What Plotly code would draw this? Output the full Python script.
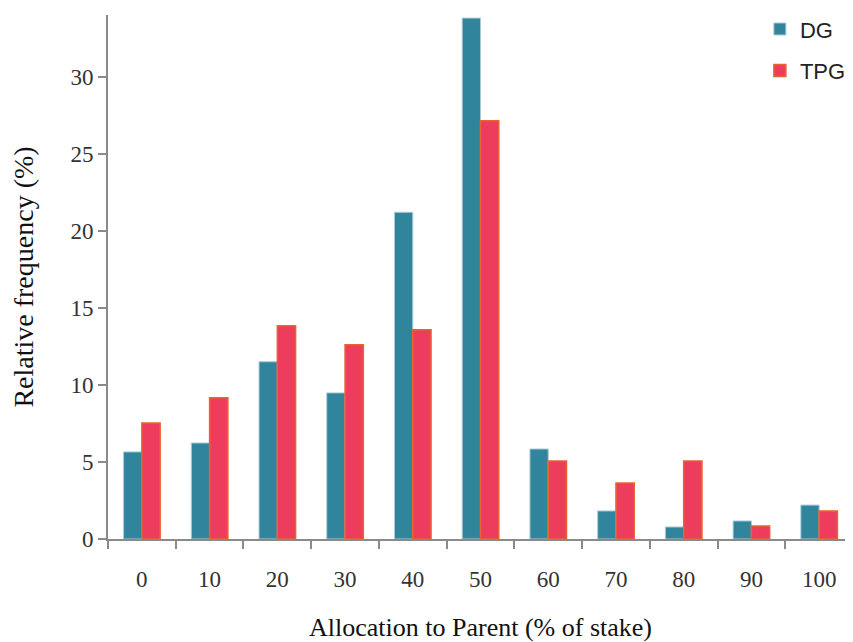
import plotly.graph_objects as go

categories = ["0", "10", "20", "30", "40", "50", "60", "70", "80", "90", "100"]
dg_values = [5.65, 6.23, 11.5, 9.48, 21.2, 33.8, 5.84, 1.82, 0.78, 1.17, 2.2]
tpg_values = [7.53, 9.16, 13.83, 12.6, 13.57, 27.14, 5.06, 3.64, 5.06, 0.84, 1.82]

fig = go.Figure()
fig.add_trace(go.Bar(
    x=categories, y=dg_values, name="DG", legendgroup="a",
    marker=dict(color="#30849c", line=dict(color="#a9cbd6", width=1)),
))
fig.add_trace(go.Bar(
    x=categories, y=tpg_values, name="TPG", legendgroup="b",
    marker=dict(color="#ee3d5c", line=dict(color="#e8642e", width=1.5)),
))

serif = "Liberation Serif"
fig.update_layout(
    width=845, height=634,
    margin=dict(l=100, r=0, t=7, b=103, autoexpand=False),
    paper_bgcolor="white", plot_bgcolor="white",
    barmode="group", bargap=0.46, bargroupgap=0,
    font=dict(family=serif, color="#222"),
    legend=dict(x=0.875, xanchor="left", y=1.013, yanchor="top",
                font=dict(family="Liberation Sans", size=22, color="#222"),
                traceorder="grouped", tracegroupgap=10,
                bgcolor="rgba(0,0,0,0)"),
    xaxis=dict(
        type="category", range=[-0.5, 10.5], automargin=False,
        showline=True, linecolor="#8a8a8a", linewidth=2,
        ticks="outside", tickson="boundaries", ticklen=8, tickcolor="#8a8a8a", tickwidth=2,
        ticklabelstandoff=18,
        tickfont=dict(family=serif, size=23, color="#333"),
        title=dict(text="Allocation to Parent (% of stake)", font=dict(family=serif, size=26, color="#111"), standoff=30),
        showgrid=False, zeroline=False,
    ),
    yaxis=dict(
        range=[0, 34], tickvals=[0, 5, 10, 15, 20, 25, 30], automargin=False,
        showline=True, linecolor="#8a8a8a", linewidth=2,
        ticks="outside", ticklen=8, tickcolor="#8a8a8a", tickwidth=2,
        ticklabelstandoff=0,
        tickfont=dict(family=serif, size=23, color="#333"),
        title=dict(text="Relative frequency (%)", font=dict(family=serif, size=28, color="#111"), standoff=30),
        showgrid=False, zeroline=False,
    ),
)

fig.write_html("out.html")
